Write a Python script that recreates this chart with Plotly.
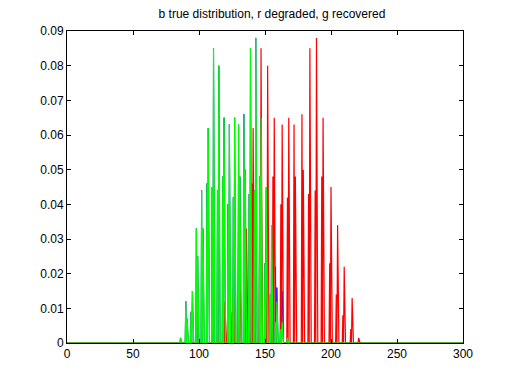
import numpy as np
import plotly.graph_objects as go

# Spike groups: each group has a value at position p and at p+1 (zeros elsewhere)
true_pos = [86, 90, 94, 98, 102, 106, 110, 114, 118, 122, 126, 130, 134, 138, 142, 146, 150, 154, 158, 162, 166]
true_left = [0.0015, 0.012, 0.009, 0.033, 0.044, 0.046, 0.045, 0.044, 0.048, 0.040, 0.042,
             0.063, 0.066, 0.043, 0.044, 0.048, 0.023, 0.014, 0.022, 0.009, 0.0]
true_right = [0.0, 0.007, 0.015, 0.025, 0.033, 0.062, 0.085, 0.080, 0.065, 0.063, 0.065,
              0.048, 0.050, 0.085, 0.088, 0.065, 0.045, 0.034, 0.016, 0.015, 0.0015]

degraded_pos = [114, 119, 125, 130, 135, 140, 146, 151, 156, 162, 167, 172, 178, 183, 188, 193, 199, 204, 209, 215, 220]
degraded_left = [0.0015, 0.012, 0.009, 0.033, 0.044, 0.046, 0.045, 0.044, 0.048, 0.040, 0.042,
                 0.063, 0.066, 0.043, 0.044, 0.048, 0.023, 0.014, 0.008, 0.004, 0.0]
degraded_right = [0.0, 0.007, 0.015, 0.025, 0.033, 0.062, 0.085, 0.080, 0.065, 0.063, 0.065,
                  0.048, 0.050, 0.085, 0.088, 0.065, 0.045, 0.034, 0.022, 0.013, 0.0015]

recovered_pos = [86, 90, 94, 98, 102, 106, 110, 114, 118, 122, 126, 130, 134, 138, 142, 146, 150, 154, 158, 162, 166]
recovered_left = [0.0015, 0.012, 0.009, 0.033, 0.044, 0.046, 0.045, 0.044, 0.048, 0.040, 0.042,
                  0.063, 0.066, 0.043, 0.044, 0.048, 0.023, 0.014, 0.006, 0.004, 0.0]
recovered_right = [0.0, 0.007, 0.015, 0.025, 0.033, 0.062, 0.085, 0.080, 0.065, 0.063, 0.065,
                   0.048, 0.050, 0.085, 0.088, 0.065, 0.045, 0.034, 0.012, 0.006, 0.0015]

# sampling grid (half-unit steps)
x_grid = np.arange(0, 600.5) / 2.0


def build(pos, left, right):
    y = np.zeros(len(x_grid))
    for p, a, b in zip(pos, left, right):
        y[2 * p] = a
        y[2 * (p + 1)] = b
    return y


series = [
    ("true", build(true_pos, true_left, true_right), "rgb(0,0,255)", 0.9),
    ("degraded", build(degraded_pos, degraded_left, degraded_right), "rgb(255,0,0)", 1.2),
    ("recovered", build(recovered_pos, recovered_left, recovered_right), "rgb(0,255,0)", 1.2),
]

fig = go.Figure()
for name, y, c, w in series:
    fig.add_trace(go.Scatter(x=x_grid, y=y, mode="lines", name=name, hoverinfo="skip",
                             line=dict(color=c, width=w), showlegend=False))

font_family = "Liberation Sans, Arial, Helvetica, sans-serif"
axis_common = dict(showline=True, linecolor="black", linewidth=1, mirror="ticks",
                   ticks="inside", ticklen=4, tickcolor="black", showgrid=False,
                   zeroline=False, tickfont=dict(family=font_family, size=12, color="black"))

fig.update_layout(
    width=512, height=384,
    margin=dict(l=67, r=49, t=31, b=41),
    paper_bgcolor="white", plot_bgcolor="white",
    title=dict(text="b true distribution, r degraded, g recovered",
               x=(67 + 463) / 2 / 512, xref="paper", xanchor="center",
               y=1 - 14 / 384, yanchor="middle",
               font=dict(family=font_family, size=12, color="black")),
    xaxis=dict(range=[0, 300], tickvals=[0, 50, 100, 150, 200, 250, 300], **axis_common),
    yaxis=dict(range=[0, 0.09], tickvals=[0, 0.01, 0.02, 0.03, 0.04, 0.05, 0.06, 0.07, 0.08, 0.09],
               ticktext=["0", "0.01", "0.02", "0.03", "0.04", "0.05", "0.06", "0.07", "0.08", "0.09"],
               **axis_common),
)

fig.write_html("out.html", config={"displayModeBar": False},
               post_script="document.body.style.margin='0';document.body.style.overflow='hidden';")
